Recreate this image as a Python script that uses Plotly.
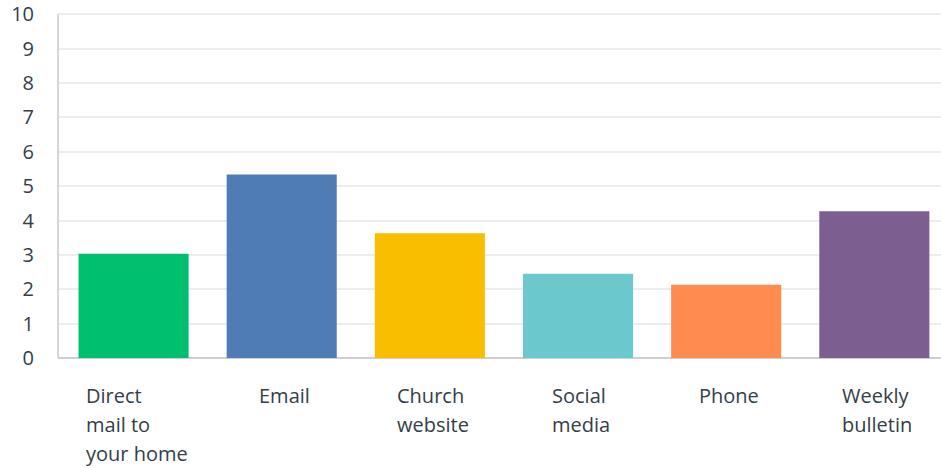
import plotly.graph_objects as go

categories = ["Direct mail to your home", "Email", "Church website", "Social media", "Phone", "Weekly bulletin"]
label_lines = [["Direct", "mail to", "your home"], ["Email"], ["Church", "website"], ["Social", "media"], ["Phone"], ["Weekly", "bulletin"]]
values = [3.03, 5.34, 3.63, 2.45, 2.13, 4.27]
colors = ["#00BF6F", "#507CB6", "#F9BE00", "#6BC8CD", "#FF8B4F", "#7D5E90"]
y_ticks = list(range(0, 11))

FONT = "Open Sans"
TXT = "#333E48"
FS = 20
LINE_GAP = 29

fig = go.Figure(go.Bar(x=categories, y=values, marker=dict(color=colors, line=dict(width=0)),
                       hoverinfo="x+y"))

annotations = []
for cat, lines in zip(categories, label_lines):
    annotations.append(dict(
        x=cat, y=0, xref="x", yref="paper", xanchor="center", yanchor="top",
        align="left", text="<br>".join(lines), showarrow=False,
        xshift=3, yshift=-22,
        font=dict(family=FONT, size=FS, color=TXT)))

fig.update_layout(
    width=941, height=468,
    margin=dict(l=58, r=0, t=1, b=110, pad=0),
    paper_bgcolor="white", plot_bgcolor="white",
    showlegend=False, bargap=0.257,
    font=dict(family=FONT, size=FS, color=TXT),
    annotations=annotations,
    xaxis=dict(range=[-0.51, 5.45], showticklabels=False, showgrid=False, zeroline=False,
               showline=False, ticks=""),
    yaxis=dict(range=[0, 10.3], tickvals=y_ticks, showgrid=True, gridcolor="#EDEDED", gridwidth=1.5,
               zeroline=True, zerolinecolor="#CFCFCF", zerolinewidth=2,
               showline=False, ticks="", ticklabeloverflow="allow",
               ticklabelstandoff=23, tickfont=dict(family=FONT, size=FS, color=TXT)),
    shapes=[dict(type="line", xref="paper", yref="y", x0=0, x1=0, y0=0, y1=10,
                 line=dict(color="#D6D6D6", width=2), layer="above")],
)

post = """
document.body.style.margin='0px';
(function(){
  var gd = document.getElementById('{plot_id}');
  function fixLines(){
    var texts = gd.querySelectorAll('.annotation-text');
    texts.forEach(function(t){
      var ls = t.querySelectorAll('tspan.line');
      ls.forEach(function(l, k){ l.setAttribute('dy', (k*%d) + 'px'); });
    });
  }
  fixLines();
  if (gd.on) gd.on('plotly_afterplot', fixLines);
})();
""" % LINE_GAP

fig.write_html("out.html", post_script=post, config={"displayModeBar": False})
